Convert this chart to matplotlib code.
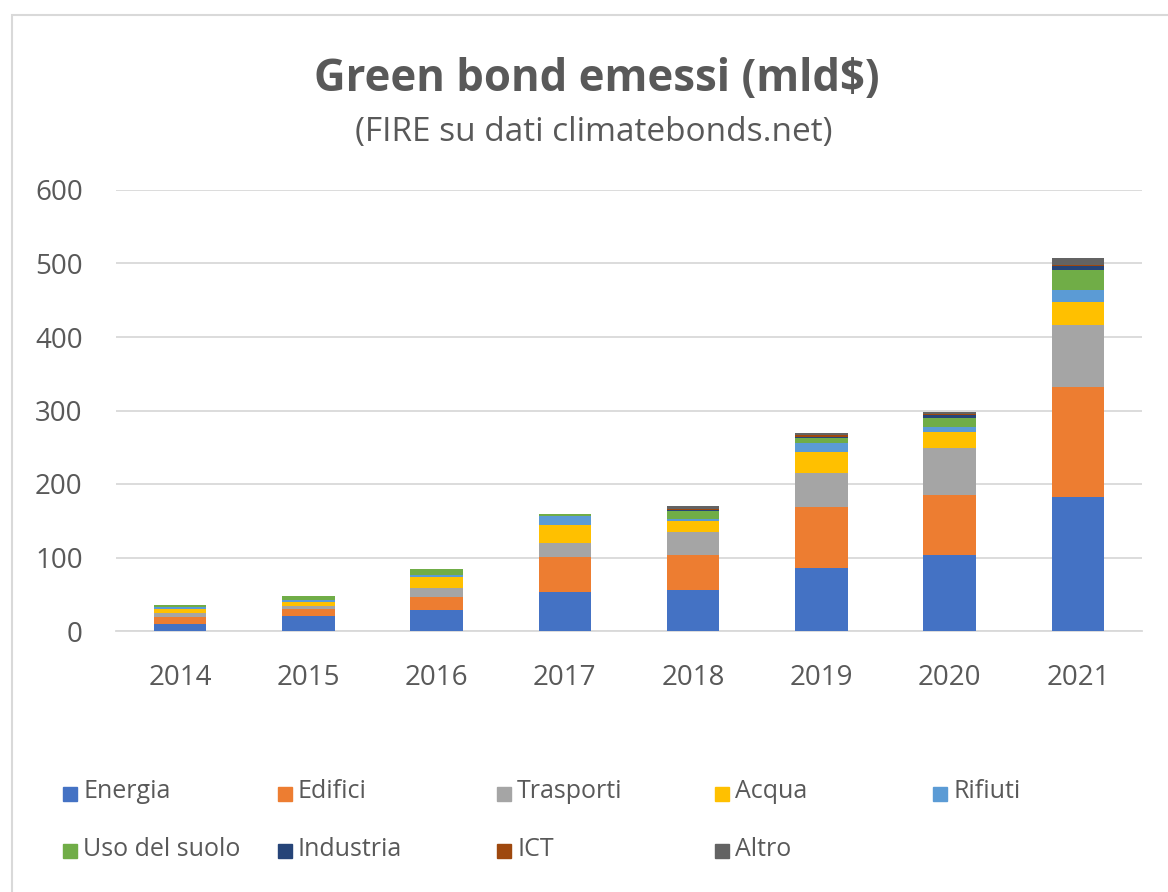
import matplotlib

matplotlib.use("Agg")
import matplotlib.pyplot as plt
from matplotlib.patches import Rectangle

plt.rcParams["font.family"] = ["Open Sans", "DejaVu Sans"]

years = ["2014", "2015", "2016", "2017", "2018", "2019", "2020", "2021"]

# issued green bonds by use of proceeds, billions of dollars
energia = [10, 20, 29, 53, 56, 86, 103, 182]
edifici = [9, 10, 17, 48, 47, 83, 82, 150]
trasporti = [6, 4, 12, 19, 32, 46, 64, 84]
acqua = [5, 6, 15, 24, 15, 29, 22, 32]
rifiuti = [2, 2, 3, 13, 2, 12, 7, 16]
uso_suolo = [4, 6, 8, 2, 11, 7, 12, 27]
industria = [0, 0, 0, 0, 2, 1, 4, 6]
ict = [0, 0, 0, 0, 1, 2, 1, 1]
altro = [0, 0, 0, 0, 4, 3, 3, 9]

series = [
    ("Energia", energia, "#4472C4"),
    ("Edifici", edifici, "#ED7D31"),
    ("Trasporti", trasporti, "#A5A5A5"),
    ("Acqua", acqua, "#FFC000"),
    ("Rifiuti", rifiuti, "#5B9BD5"),
    ("Uso del suolo", uso_suolo, "#70AD47"),
    ("Industria", industria, "#264478"),
    ("ICT", ict, "#9E480E"),
    ("Altro", altro, "#636363"),
]

W, H = 1168, 892
fig = plt.figure(figsize=(W / 100, H / 100), dpi=100)
ax = fig.add_axes([116 / W, 1 - 631 / H, 1026 / W, 441 / H])

x = range(len(years))
bottom = [0] * len(years)
for name, vals, color in series:
    ax.bar(x, vals, width=0.41, bottom=bottom, color=color, zorder=3)
    bottom = [b + v for b, v in zip(bottom, vals)]

ax.set_xlim(-0.5, len(years) - 0.5)
ax.set_ylim(0, 600)
ax.set_yticks(range(0, 601, 100))
ax.set_xticks(list(x))
ax.set_xticklabels(years)
ax.grid(axis="y", color="#D9D9D9", linewidth=1.3, zorder=0)
for side in ("left", "right", "top"):
    ax.spines[side].set_visible(False)
ax.spines["bottom"].set_color("#D9D9D9")
ax.spines["bottom"].set_linewidth(1.3)
ax.tick_params(axis="both", length=0, labelsize=20, labelcolor="#595959")
ax.tick_params(axis="y", pad=24)
ax.tick_params(axis="x", pad=24)

fig.text(597 / W, 1 - 79 / H, "Green bond emessi (mld$)", ha="center", va="center",
         fontsize=31.5, fontweight="bold", color="#595959")
fig.text(594 / W, 1 - 133 / H, "(FIRE su dati climatebonds.net)", ha="center", va="center",
         fontsize=24, color="#595959")

# legend laid out on a fixed grid, two rows
cols = [70, 285, 504, 722, 940]
rows = [792, 849]
for i, (name, vals, color) in enumerate(series):
    cx = cols[i % 5]
    cy = rows[i // 5]
    fig.patches.append(Rectangle(((cx - 7) / W, 1 - (cy + 9) / H), 14 / W, 14 / H,
                                 transform=fig.transFigure, color=color))
    fig.text((cx + 13) / W, 1 - cy / H, name, ha="left", va="center",
             fontsize=18, color="#595959")

# thin chart frame
fig.patches.append(Rectangle((12 / W, -0.01), 1.02, 1 - 15 / H + 0.01,
                             transform=fig.transFigure, fill=False,
                             edgecolor="#D9D9D9", linewidth=1.5))

fig.savefig("out.png", dpi=100)
